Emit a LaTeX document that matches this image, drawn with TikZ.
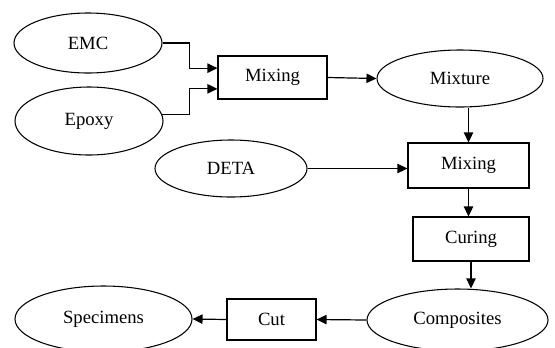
\documentclass[tikz,border=0pt]{standalone}
\usepackage{fontspec}
\setmainfont{Liberation Serif}
\usetikzlibrary{arrows.meta,shapes.geometric,calc}

\begin{document}
\begin{tikzpicture}[
  x=0.75pt, y=-0.75pt,
  font=\fontsize{14}{16}\selectfont,
  sz/.style 2 args={minimum width=#1*0.75pt, minimum height=#2*0.75pt},
  mat/.style={draw, ellipse, line width=0.8pt, inner sep=0pt},
  proc/.style={draw, rectangle, line width=0.8pt, inner sep=0pt},
  arr/.style={-{Triangle[length=7.5pt, width=7pt]}, line width=0.9pt}
]
\useasboundingbox (0,0) rectangle (555,347);

% ---------------- inputs ----------------
\node[mat, sz={148}{60}] (emc) at (88, 43) {EMC};
\node[mat, sz={148}{68}] (epoxy) at (89, 121) {Epoxy};
\node[mat, sz={152}{57}] (deta) at (231, 168.5) {DETA};

% ---------------- process chain ----------------
\node[proc, sz={109}{43}] (mix1) at (272.5, 77.5) {Mixing};
\node[mat, sz={166}{57}] (mixture) at (460, 78.5) {Mixture};
\node[proc, sz={121}{45}] (mix2) at (468.5, 165.5) {Mixing};
\node[proc, sz={116}{44}] (curing) at (471, 239) {Curing};
\node[mat, sz={181}{62}] (comp) at (457.5, 320) {Composites};
\node[proc, sz={89}{41}] (cut) at (271.5, 319.5) {Cut};
\node[mat, sz={177}{66}] (spec) at (103.5, 319) {Specimens};

% ---------------- arrows ----------------
\draw[arr] (emc.east) -- ++(27,0) |- ([yshift=7pt]mix1.west);
\draw[arr] (epoxy.5) -- ++(27,0) |- ([yshift=-8.5pt]mix1.west);
\draw[arr] (mix1.east) -- (mixture.west);
\draw[arr] (mix2.north |- mixture.south) -- (mix2.north);
\draw[arr] (deta.east) -- (deta.east -| mix2.west);
\draw[arr] (mix2.south) -- (mix2.south |- curing.north);
\draw[arr] (curing.south) -- (curing.south |- comp.north);
\draw[arr] (comp.west) -- (cut.east);
\draw[arr] (cut.west) -- (spec.east);

\end{tikzpicture}
\end{document}
